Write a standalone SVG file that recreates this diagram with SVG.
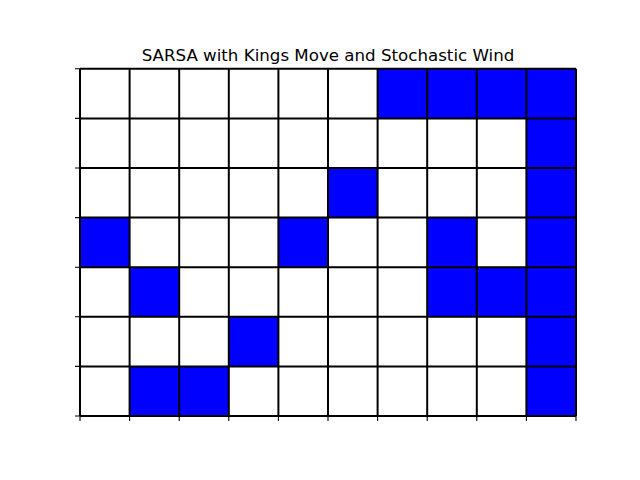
<svg xmlns="http://www.w3.org/2000/svg" width="640" height="480" viewBox="0 0 640 480">
<style>
.w{fill:#ffffff}
.b{fill:#0000ff}
.g{stroke:#000;stroke-width:2;fill:none}
.t{stroke:#000;stroke-width:1.1}
.title{font-family:"DejaVu Sans",sans-serif;font-size:16.67px;fill:#000}
</style>
<rect x="0" y="0" width="640" height="480" fill="#fff"/>
<text class="title" x="328" y="60.8" text-anchor="middle">SARSA with Kings Move and Stochastic Wind</text>
<g id="cells">
<rect class="w" x="80" y="68.8" width="496" height="347.2"/>
<rect class="b" x="377.6" y="68.8" width="198.4" height="49.6"/>
<rect class="b" x="526.4" y="68.8" width="49.6" height="347.2"/>
<rect class="b" x="328" y="168" width="49.6" height="49.6"/>
<rect class="b" x="80" y="217.6" width="49.6" height="49.6"/>
<rect class="b" x="278.4" y="217.6" width="49.6" height="49.6"/>
<rect class="b" x="427.2" y="217.6" width="49.6" height="49.6"/>
<rect class="b" x="129.6" y="267.2" width="49.6" height="49.6"/>
<rect class="b" x="427.2" y="267.2" width="148.8" height="49.6"/>
<rect class="b" x="228.8" y="316.8" width="49.6" height="49.6"/>
<rect class="b" x="129.6" y="366.4" width="99.2" height="49.6"/>
</g>
<g id="gridlines">
<path class="g" d="M80,68.8V416M129.6,68.8V416M179.2,68.8V416M228.8,68.8V416M278.4,68.8V416M328,68.8V416M377.6,68.8V416M427.2,68.8V416M476.8,68.8V416M526.4,68.8V416M576,68.8V416"/>
<path class="g" d="M80,68.8H576M80,118.4H576M80,168H576M80,217.6H576M80,267.2H576M80,316.8H576M80,366.4H576M80,416H576"/>
</g>
<g id="ticks">
<path class="t" d="M80,68.8h-5M80,118.4h-5M80,168h-5M80,217.6h-5M80,267.2h-5M80,316.8h-5M80,366.4h-5M80,416h-5"/>
<path class="t" d="M80,416v5M129.6,416v5M179.2,416v5M228.8,416v5M278.4,416v5M328,416v5M377.6,416v5M427.2,416v5M476.8,416v5M526.4,416v5M576,416v5"/>
</g>
</svg>
